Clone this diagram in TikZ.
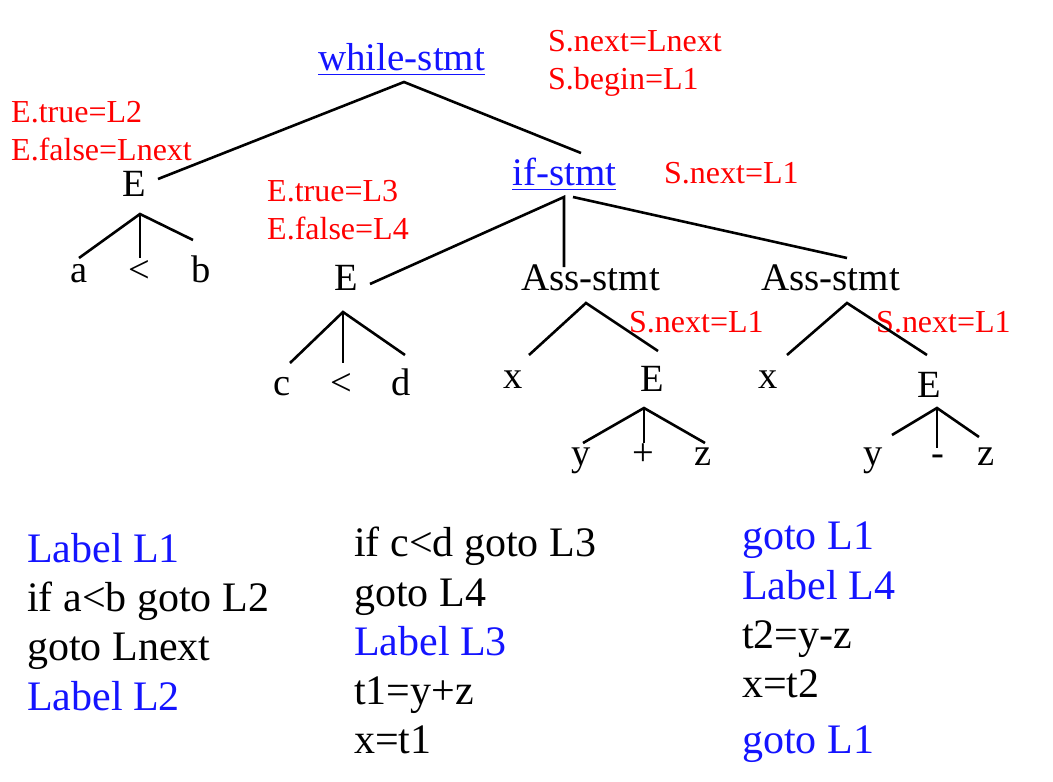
\documentclass[tikz,border=0pt]{standalone}
\usepackage{fontspec}
\setmainfont{Liberation Serif}
\definecolor{myblue}{RGB}{20,20,255}
\definecolor{myred}{RGB}{255,0,0}
\tikzset{
  tree/.style={font=\fontsize{38.5}{46}\selectfont, inner sep=0pt, anchor=base},
  treew/.style={font=\fontsize{39}{46}\selectfont, inner sep=0pt, anchor=base west},
  attr/.style={font=\fontsize{32}{38}\selectfont, text=myred, inner sep=0pt, anchor=base west},
  code/.style={font=\fontsize{42}{50}\selectfont, inner sep=0pt, anchor=base west},
  edge/.style={line width=2.6pt},
  uline/.style={line width=1.8pt, myblue}
}
\begin{document}
\begin{tikzpicture}[x=1pt,y=-1pt]
\useasboundingbox[fill=white] (0,0) rectangle (1053,782);
% tree labels
\node[treew, text=myblue] (wh) at (318,70) {while-stmt};
\node[treew, text=myblue] (ifs) at (512,185) {if-stmt};
\node[tree] (E1) at (134,196) {E};
\node[tree] (a1) at (79,282) {a};
\node[tree] (lt1) at (139,282) {<};
\node[tree] (b1) at (201,282) {b};
\node[tree] (E2) at (346,290) {E};
\node[treew] (as1) at (521,290) {Ass-stmt};
\node[treew] (as2) at (761,290) {Ass-stmt};
\node[tree] (c2) at (282,395) {c};
\node[tree] (lt2) at (341,395) {<};
\node[tree] (d2) at (401,395) {d};
\node[tree] (x3) at (513,388) {x};
\node[tree] (E3) at (652,391) {E};
\node[tree] (y3) at (581,465) {y};
\node[tree] (p3) at (643,465) {+};
\node[tree] (z3) at (703,465) {z};
\node[tree] (x4) at (768,388) {x};
\node[tree] (E4) at (929,397) {E};
\node[tree] (y4) at (873,465) {y};
\node[tree] (m4) at (938,465) {-};
\node[tree] (z4) at (986,465) {z};
% underlines
\draw[uline] ([yshift=-4.5pt]wh.base west) -- ([yshift=-4.5pt]wh.base east);
\draw[uline] ([yshift=-4.5pt]ifs.base west) -- ([yshift=-4.5pt]ifs.base east);
% attributes
\node[attr] (sn0) at (548,51) {S.next=Lnext};
\node[attr] (sb0) at (548,89) {S.begin=L1};
\node[attr] (et1) at (11,122) {E.true=L2};
\node[attr] (ef1) at (11,160) {E.false=Lnext};
\node[attr] (et2) at (267,201) {E.true=L3};
\node[attr] (ef2) at (267,239) {E.false=L4};
\node[attr] (sn1) at (664,183) {S.next=L1};
\node[attr] (sn2) at (629,332) {S.next=L1};
\node[attr] (sn3) at (876,332) {S.next=L1};
% connector coordinates
\coordinate (wA) at (404,82);
\coordinate (wL) at (158,179);
\coordinate (wR) at (581,153);
\coordinate (e1A) at (140,214);
\coordinate (e1a) at (79,258);
\coordinate (e1b) at (140,258);
\coordinate (e1c) at (193,240);
\coordinate (iA) at (564,197);
\coordinate (iA2) at (573,197);
\coordinate (iL) at (370,284);
\coordinate (iM) at (564,267);
\coordinate (iR) at (847,258);
\coordinate (e2A) at (343,312);
\coordinate (e2a) at (290,363);
\coordinate (e2b) at (343,363);
\coordinate (e2c) at (405,355);
\coordinate (s1A) at (586,303);
\coordinate (s1a) at (529,355);
\coordinate (s1b) at (658,351);
\coordinate (e3A) at (644,408);
\coordinate (e3a) at (583,443);
\coordinate (e3b) at (644,443);
\coordinate (e3c) at (705,443);
\coordinate (s2A) at (847,303);
\coordinate (s2a) at (787,355);
\coordinate (s2b) at (927,355);
\coordinate (e4A) at (937,408);
\coordinate (e4a) at (892,435);
\coordinate (e4b) at (937,448);
\coordinate (e4c) at (979,437);
% edges
\draw[edge] (wL) -- (wA) -- (wR);
\draw[edge] (e1a) -- (e1A) -- (e1c);
\draw[edge] (e1A) -- (e1b);
\draw[edge] (iL) -- (iA) -- (iM);
\draw[edge] (iA2) -- (iR);
\draw[edge] (e2a) -- (e2A) -- (e2c);
\draw[edge] (e2A) -- (e2b);
\draw[edge] (s1a) -- (s1A) -- (s1b);
\draw[edge] (e3a) -- (e3A) -- (e3c);
\draw[edge] (e3A) -- (e3b);
\draw[edge] (s2a) -- (s2A) -- (s2b);
\draw[edge] (e4a) -- (e4A) -- (e4c);
\draw[edge] (e4A) -- (e4b);
% code
\node[code, text=myblue] (k11) at (27,562) {Label L1};
\node[code] (k12) at (27,611) {if a<b goto L2};
\node[code] (k13) at (27,660) {goto Lnext};
\node[code, text=myblue] (k14) at (27,710) {Label L2};
\node[code] (k21) at (354,556) {if c<d goto L3};
\node[code] (k22) at (354,606) {goto L4};
\node[code, text=myblue] (k23) at (354,655) {Label L3};
\node[code] (k24) at (354,704) {t1=y+z};
\node[code] (k25) at (354,753) {x=t1};
\node[code, text=myblue] (k31) at (742,549) {goto L1};
\node[code, text=myblue] (k32) at (742,599) {Label L4};
\node[code] (k33) at (742,648) {t2=y-z};
\node[code] (k34) at (742,697) {x=t2};
\node[code, text=myblue] (k35) at (742,753) {goto L1};
\end{tikzpicture}
\end{document}
